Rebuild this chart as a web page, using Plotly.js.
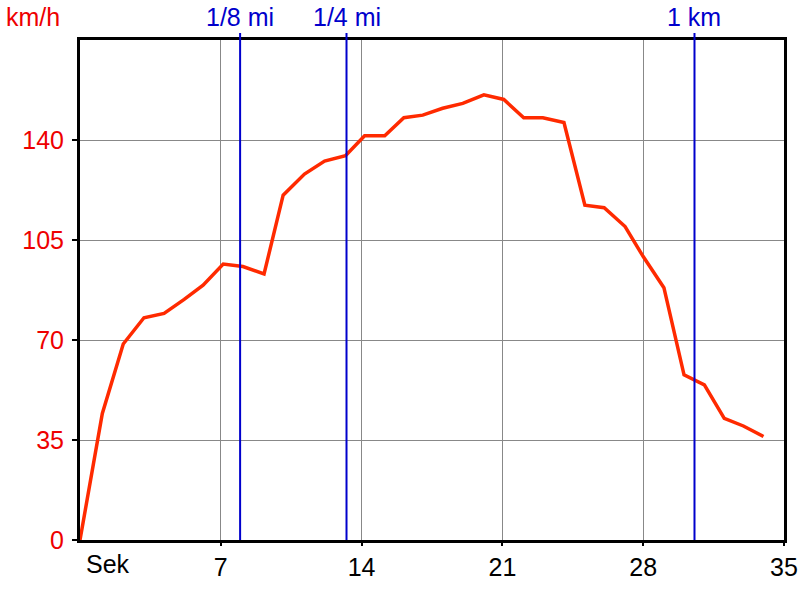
<!DOCTYPE html>
<html>
<head>
<meta charset="utf-8">
<script src="https://cdn.plot.ly/plotly-3.0.1.min.js"></script>
<style>html,body{margin:0;padding:0;background:#fff;}#chart{width:800px;height:600px;}</style>
</head>
<body>
<div id="chart"></div>
<script>
// Time in seconds and speed in km/h
const seconds = [0,1.11,2.15,3.18,4.18,5.18,6.12,7.12,8.1,9.15,10.1,11.16,12.16,13.2,14.15,15.15,16.1,17.04,18.03,19.03,20.08,21.07,22.06,23.01,24.06,25.1,26.06,27.1,28.0,29.03,30.03,31.04,32.03,32.98,33.98];
const speedKmh = [0,44.3,68.6,77.8,79.3,84.2,89.2,96.6,95.7,93.1,120.7,128.1,132.6,134.5,141.5,141.5,147.8,148.7,151.1,152.8,155.8,154.2,147.8,147.8,146.1,117.2,116.3,109.7,99.2,88.3,57.8,54.3,42.6,39.9,36.2];
// Distance markers (time at which distance reached)
const markerLabels = ['1/8 mi','1/4 mi','1 km'];
const markerSecs = [7.96,13.25,30.55];
// Axis ticks
const xTicks = [7,14,21,28,35];
const yTicks = [0,35,70,105,140];

const font = 'Liberation Sans, Arial, sans-serif';
const FS = 25;
const shapes = markerSecs.map(s => ({
  type:'line', xref:'x', yref:'paper', x0:s, x1:s, y0:0, y1:1.014,
  line:{color:'#0000cc', width:2}, layer:'above'
}));
const annotations = markerLabels.map((t,i) => ({
  text:t, xref:'x', yref:'paper', x:markerSecs[i], y:1.046, yanchor:'middle', xanchor:'center',
  showarrow:false, font:{family:font, size:FS, color:'#0000cc'}
}));
annotations.push({text:'km/h', xref:'paper', yref:'paper', x:-0.108, y:1.046, xanchor:'left', yanchor:'middle',
  showarrow:false, font:{family:font, size:FS, color:'#ee0000'}});
annotations.push({text:'Sek', xref:'x', yref:'paper', x:0, xshift:4, y:-0.048, xanchor:'left', yanchor:'middle',
  showarrow:false, font:{family:font, size:FS, color:'#000'}});

Plotly.newPlot('chart', [{
  x: seconds, y: speedKmh, type:'scatter', mode:'lines',
  line:{color:'#ff2a00', width:3.5}, hoverinfo:'skip'
}], {
  width:800, height:600,
  margin:{l:80, r:16, t:40, b:60},
  paper_bgcolor:'#fff', plot_bgcolor:'#fff',
  showlegend:false,
  xaxis:{range:[0,35], tickvals:xTicks, ticktext:xTicks.map(String),
    showgrid:true, gridcolor:'#888', gridwidth:1, zeroline:false,
    showline:true, linecolor:'#000', linewidth:3, mirror:true,
    ticks:'outside', ticklen:3, tickcolor:'#000', tickwidth:2,
    ticklabelstandoff:0,
    tickfont:{family:font, size:FS, color:'#000'}},
  yaxis:{range:[0,175], tickvals:yTicks, ticktext:yTicks.map(String),
    showgrid:true, gridcolor:'#888', gridwidth:1, zeroline:false,
    showline:true, linecolor:'#000', linewidth:3, mirror:true,
    ticks:'outside', ticklen:5, tickcolor:'#000', tickwidth:2,
    ticklabelstandoff:3,
    tickfont:{family:font, size:FS, color:'#ee0000'}},
  shapes: shapes,
  annotations: annotations
}, {staticPlot:true});
</script>
</body>
</html>
